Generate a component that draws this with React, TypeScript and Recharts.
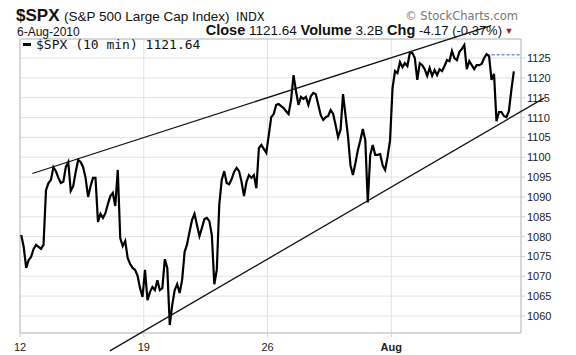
import React from "react";
import {
  LineChart,
  Line,
  XAxis,
  YAxis,
  CartesianGrid,
  ReferenceLine,
  ReferenceArea,
} from "recharts";

// 10-minute $SPX, sampled ~every 39 minutes, 10 samples per trading day, Jul 12 - Aug 6 2010
const PRICES: number[] = [
  1080.4, 1077.4, 1072.1, 1074.1, 1074.9, 1076.9, 1077.9, 1077.4, 1076.9, 1077.9,
  1091.7, 1093.5, 1094.3, 1097.5, 1096.5, 1094.8, 1093.5, 1093.8, 1097.5, 1098.8,
  1091.5, 1092.7, 1096.3, 1099.3, 1098.8, 1097.5, 1094.8, 1090.0, 1092.7, 1094.8,
  1094.8, 1083.7, 1085.7, 1084.7, 1085.9, 1088.2, 1090.2, 1091.0, 1087.7, 1096.8,
  1079.6, 1077.6, 1078.9, 1074.6, 1073.1, 1072.1, 1071.6, 1070.1, 1067.0, 1064.8,
  1071.6, 1064.0, 1066.0, 1067.3, 1066.5, 1069.0, 1066.5, 1067.0, 1074.3, 1072.1,
  1057.7, 1062.8, 1066.5, 1068.0, 1065.8, 1069.1, 1076.1, 1078.1, 1081.2, 1084.2,
  1085.7, 1082.9, 1080.1, 1082.2, 1084.4, 1084.7, 1083.9, 1080.4, 1068.0, 1071.6,
  1088.0, 1094.3, 1096.5, 1093.5, 1093.2, 1094.5, 1096.3, 1097.3, 1096.5, 1093.8,
  1090.2, 1093.8, 1095.5, 1094.8, 1095.5, 1092.2, 1102.3, 1103.1, 1102.1, 1101.1,
  1105.6, 1110.1, 1110.9, 1113.2, 1113.4, 1112.9, 1112.4, 1111.6, 1110.9, 1114.4,
  1120.7, 1116.7, 1113.2, 1115.2, 1114.7, 1115.2, 1113.2, 1115.4, 1116.2, 1115.9,
  1113.2, 1110.6, 1109.4, 1110.1, 1110.4, 1111.9, 1110.9, 1108.1, 1105.1, 1106.9,
  1115.9, 1110.6, 1105.3, 1098.0, 1095.5, 1098.5, 1101.8, 1104.3, 1107.1, 1104.3,
  1088.6, 1100.6, 1103.1, 1100.6, 1100.6, 1100.8, 1098.0, 1096.8, 1100.1, 1104.3,
  1117.4, 1121.7, 1121.2, 1124.0, 1122.7, 1123.7, 1123.0, 1126.3, 1126.3, 1125.0,
  1119.5, 1123.7, 1123.2, 1122.2, 1120.5, 1122.5, 1120.5, 1122.0, 1120.7, 1122.2,
  1121.7, 1123.0, 1124.5, 1124.2, 1126.8, 1125.0, 1124.5, 1126.5, 1127.3, 1128.3,
  1122.2, 1124.2, 1123.2, 1122.2, 1123.2, 1123.2, 1123.5, 1125.0, 1126.0, 1125.5,
  1119.5, 1121.0, 1109.1, 1111.4, 1111.4, 1110.4, 1110.1, 1111.6, 1116.9, 1121.64,
];

const X_TICK_LABELS = ["12", "19", "26", "Aug"];
const WEEK_START_INDEX = [0, 50, 100, 150];
const Y_TICKS = [1060, 1065, 1070, 1075, 1080, 1085, 1090, 1095, 1100, 1105, 1110, 1115, 1120, 1125];

// Trend lines: [sample index, price]
const UPPER_TREND = [
  { i: 4.5, v: 1095.9 },
  { i: 189.8, v: 1133.2 },
];
const LOWER_TREND = [
  { i: 35.8, v: 1051.2 },
  { i: 211.2, v: 1114.9 },
];
const PREV_CLOSE = 1125.81;
const PREV_CLOSE_FROM = 188;

const X_MIN = -0.5;
const X_MAX = 201.9;
const Y_MIN = 1055.7;
const Y_MAX = 1129.8;

const DATA = PRICES.map((p, i) => ({ i, p }));
const X_TICKS = WEEK_START_INDEX.map((w) => w - 0.5);

const FONT = "'Liberation Sans', Arial, sans-serif";

const XTick = (props: any) => {
  const { x, y, payload } = props;
  const k = X_TICKS.indexOf(payload.value);
  const label = X_TICK_LABELS[k] ?? "";
  return (
    <text
      x={x}
      y={y + 12}
      textAnchor="middle"
      fontSize={11}
      fontFamily={FONT}
      fontWeight={label === "Aug" ? 700 : 400}
      fill="#222"
    >
      {label}
    </text>
  );
};

const YTick = (props: any) => {
  const { x, y, payload } = props;
  return (
    <text x={x} y={y + 4} textAnchor="start" fontSize={11} fontFamily={FONT} fill="#222">
      {payload.value}
    </text>
  );
};

export default function App() {
  return (
    <div
      style={{
        position: "absolute",
        left: 0,
        top: 0,
        width: 576,
        height: 355,
        background: "#fff",
        overflow: "hidden",
      }}
    >
      <LineChart
        width={576}
        height={355}
        data={DATA}
        margin={{ top: 39, right: 0, left: 20, bottom: 0 }}
      >
        <CartesianGrid stroke="#e2e2e2" strokeWidth={1} />
        <XAxis
          dataKey="i"
          type="number"
          domain={[X_MIN, X_MAX]}
          ticks={X_TICKS}
          allowDataOverflow
          axisLine={false}
          tickLine={{ stroke: "#d0d0d0" }}
          tickSize={4}
          height={22}
          tick={<XTick />}
          interval={0}
        />
        <YAxis
          orientation="right"
          type="number"
          domain={[Y_MIN, Y_MAX]}
          ticks={Y_TICKS}
          allowDataOverflow
          axisLine={false}
          tickLine={{ stroke: "#d0d0d0" }}
          tickSize={4}
          tickMargin={2}
          width={55}
          tick={<YTick />}
          interval={0}
        />
        <ReferenceArea
          x1={X_MIN}
          x2={X_MAX}
          y1={Y_MIN}
          y2={Y_MAX}
          fill="none"
          stroke="#bdbdbd"
          strokeWidth={1}
          ifOverflow="visible"
        />
        <ReferenceLine
          segment={[
            { x: PREV_CLOSE_FROM, y: PREV_CLOSE },
            { x: X_MAX, y: PREV_CLOSE },
          ]}
          stroke="#2f55d4"
          strokeDasharray="3 2"
          strokeWidth={1}
          ifOverflow="visible"
        />
        <Line
          dataKey="p"
          type="linear"
          stroke="#000"
          strokeWidth={2.2}
          dot={false}
          isAnimationActive={false}
        />
        <ReferenceLine
          segment={[
            { x: UPPER_TREND[0].i, y: UPPER_TREND[0].v },
            { x: UPPER_TREND[1].i, y: UPPER_TREND[1].v },
          ]}
          stroke="#111"
          strokeWidth={1.3}
          ifOverflow="visible"
        />
        <ReferenceLine
          segment={[
            { x: LOWER_TREND[0].i, y: LOWER_TREND[0].v },
            { x: LOWER_TREND[1].i, y: LOWER_TREND[1].v },
          ]}
          stroke="#111"
          strokeWidth={1.3}
          ifOverflow="visible"
        />
      </LineChart>
      <svg
        width={576}
        height={355}
        style={{ position: "absolute", left: 0, top: 0, pointerEvents: "none" }}
      >
        <text x={16} y={21} fontSize={17} fontWeight={700} fontFamily={FONT} fill="#111">
          $SPX
        </text>
        <text x={64} y={21} fontSize={13.5} fontFamily={FONT} fill="#111">
          (S&amp;P 500 Large Cap Index)
        </text>
        <text x={236} y={21} fontSize={11.5} fontFamily="'DejaVu Sans', sans-serif" fill="#111">
          INDX
        </text>
        <text x={518} y={20} textAnchor="end" fontSize={11.5} fontFamily="'DejaVu Sans', sans-serif" fill="#777">
          © StockCharts.com
        </text>
        <text x={17} y={36} fontSize={12} fontFamily={FONT} fill="#111">
          6-Aug-2010
        </text>
        <text x={502} y={35} textAnchor="end" fontFamily={FONT} fill="#111">
          <tspan fontSize={14.5} fontWeight={700}>Close</tspan>
          <tspan fontSize={13.5}> 1121.64 </tspan>
          <tspan fontSize={14.5} fontWeight={700}>Volume</tspan>
          <tspan fontSize={13.5}> 3.2B </tspan>
          <tspan fontSize={14.5} fontWeight={700}>Chg</tspan>
          <tspan fontSize={13}> -4.17 (-0.37%)</tspan>
        </text>
        <text x={509} y={34} textAnchor="middle" fontSize={9} fontFamily={FONT} fill="#b0103a">
          ▼
        </text>
        <rect x={23} y={43} width={8} height={3} fill="#000" />
        <text x={36} y={49} fontSize={13} fontFamily="'DejaVu Sans Mono', monospace" fill="#111">
          $SPX (10 min) 1121.64
        </text>
      </svg>
    </div>
  );
}
